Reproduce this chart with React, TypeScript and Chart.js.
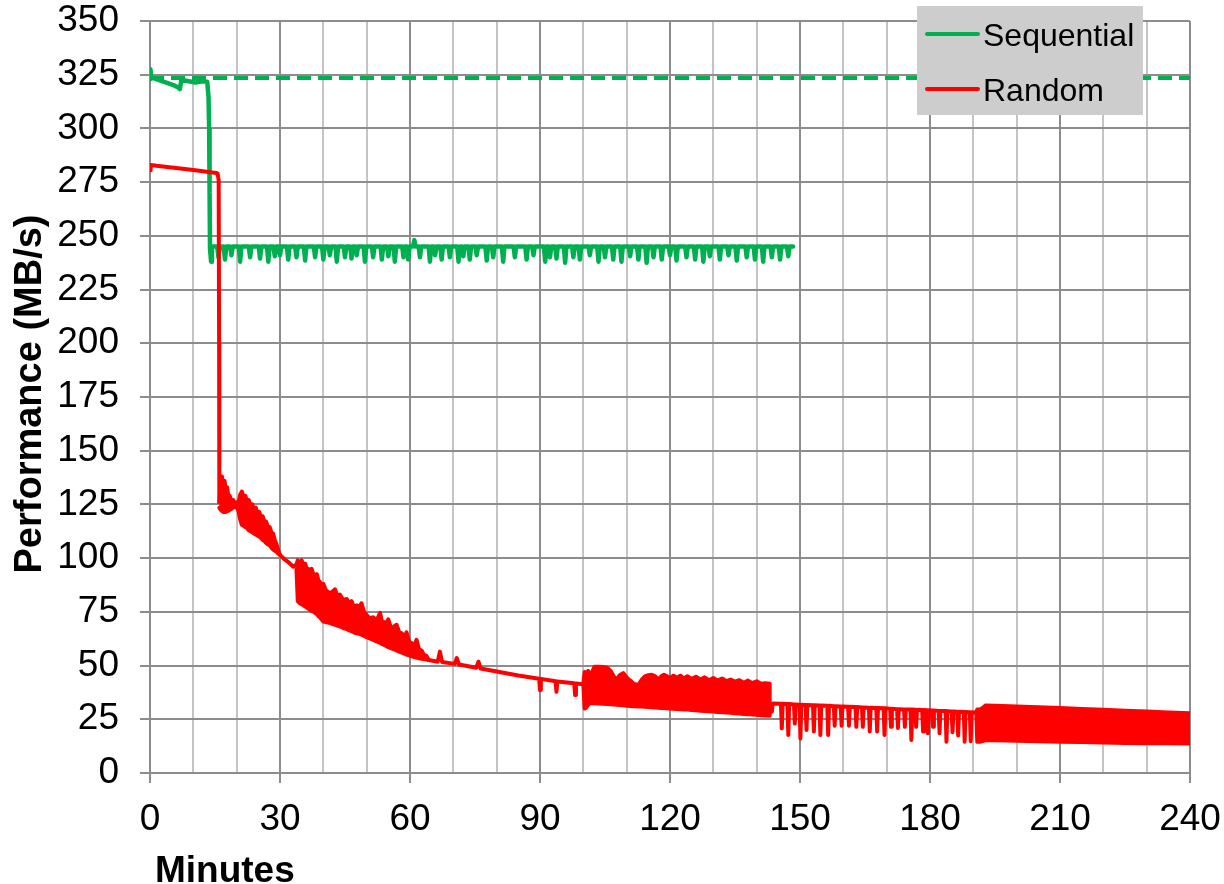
import { useEffect, useRef } from 'react';
import { Chart, registerables } from 'chart.js';

Chart.register(...registerables);

const FONT = "'Liberation Sans', Arial, Helvetica, sans-serif";
const GREEN = '#00B050';
const RED = '#FF0000';
const GRID_DARK = '#8c8c8c';
const GRID_LIGHT = '#c4c4c4';

// Axis set-up
const X_MAX = 240;
const X_GRID_STEP = 10;
const X_LABEL_STEP = 30;
const Y_MAX = 350;
const Y_STEP = 25;
const X_TITLE = 'Minutes';
const Y_TITLE = 'Performance (MB/s)';
const SERIES_NAMES = ['Sequential', 'Random'];

type Pt = [number, number];
type BandPt = [number, number, number]; // minute, upper, lower

// Sequential write: fresh-drive plateau and the fall to the sustained rate
const sequentialStart: Pt[] = [
  [0, 323], [0.1, 327.5], [0.3, 323.5], [1, 323.3], [3.1, 321.8], [5.4, 320.2],
  [6.7, 318.8], [6.9, 318.3], [7.2, 322.2], [8, 322.3], [10.5, 321.4], [12, 321.9],
  [13.2, 321.7], [13.5, 315], [13.65, 300], [13.75, 270], [13.85, 244], [14.1, 238],
  [14.3, 245],
];

// Sustained sequential level and the short excursions away from it
const SEQ_LEVEL = 245;
const SEQ_END = 148.4;
const sequentialExcursions: Pt[] = [
  [15.8, 240], [17.3, 239], [18.8, 241], [20.8, 238], [23.1, 240], [25.4, 239.5],
  [27.3, 238], [28.8, 240.5], [30, 241], [31.9, 239], [33.8, 240], [35.8, 238.5],
  [38.1, 240], [40, 239], [41.5, 241], [43.1, 238], [45, 240], [46.5, 239.5],
  [47.7, 241], [49.6, 238], [51.5, 240], [53.5, 239], [55, 240.5], [56.5, 238],
  [58.5, 240], [59.6, 239], [61.0, 248], [62.3, 240], [64.6, 238], [65.8, 241],
  [67.3, 239], [69.2, 240], [71.2, 238], [72.3, 240.5], [73.8, 239], [75.4, 241],
  [77.7, 238.5], [79.2, 240], [81.5, 238], [84.2, 240], [86.9, 239], [88.5, 241],
  [91.2, 238], [92.3, 240], [93.8, 239.5], [95.8, 237.5], [97.7, 240], [99.2, 239],
  [101.5, 241], [103.5, 238], [105, 240], [106.9, 239], [108.8, 238], [110.8, 240.5],
  [112.7, 239], [114.6, 237.5], [116.2, 240], [118.1, 239], [120, 241], [121.5, 238.5],
  [123.8, 240], [125.8, 239], [127.7, 238], [129.2, 240.5], [131.5, 239], [133.5, 241],
  [135.4, 238.5], [137.7, 240], [139.6, 239], [141.5, 238], [143.5, 240], [145.4, 239],
  [147.3, 240.5],
];

// Rated sequential speed (dashed reference)
const sequentialRated: Pt[] = [[0, 323.5], [240, 323.5]];

// Random write: single-trace stretches
const randomHead: Pt[] = [
  [0, 280.5], [0.15, 283], [1.5, 282.6], [5, 281.8], [10, 280.6], [15.3, 279.3],
  [15.6, 279], [15.85, 276], [15.95, 200], [16.0, 126],
];
const randomMid1: Pt[] = [[30, 101.5], [31, 99.5], [32, 98], [33.1, 96], [33.8, 97]];
const randomMid2: Pt[] = [
  [64.3, 52.6], [66.4, 51.8], [66.9, 56.5], [67.4, 51.7], [70.3, 50.8], [70.8, 53.5],
  [71.3, 50.5], [75.3, 49.0], [75.8, 51.8], [76.3, 48.6], [80, 47.2], [85, 45.4],
  [89.8, 43.9], [90.0, 38.6], [90.2, 43.8], [93.6, 42.7], [93.8, 37.8], [94.0, 42.6],
  [97.9, 41.8], [98.1, 36.3], [98.3, 41.7], [100, 41.3],
];
const randomMid3: Pt[] = [
  [143.0, 28.5], [143.5, 28.5], [143.7, 32.4],
  [145.6, 32.2], [145.8, 20.8], [146.0, 32.2],
  [147.1, 32.1], [147.3, 17.7], [147.5, 32.1],
  [148.6, 31.9], [148.8, 23.0], [149.0, 31.9],
  [149.9, 31.8], [150.1, 16.1], [150.3, 31.8],
  [151.3, 31.7], [151.5, 20.0], [151.7, 31.7],
  [153.0, 31.5], [153.2, 19.3], [153.4, 31.5],
  [154.5, 31.4], [154.7, 17.7], [154.9, 31.4],
  [156.3, 31.3], [156.5, 17.7], [156.7, 31.3],
  [157.8, 31.1], [158.0, 22.0], [158.2, 31.1],
  [159.4, 31.0], [159.6, 22.0], [159.8, 31.0],
  [161.1, 30.8], [161.3, 22.0], [161.5, 30.8],
  [162.8, 30.7], [163.0, 21.5], [163.2, 30.7],
  [164.3, 30.5], [164.5, 21.5], [164.7, 30.5],
  [165.9, 30.4], [166.1, 19.3], [166.3, 30.4],
  [167.6, 30.2], [167.8, 19.3], [168.0, 30.2],
  [169.3, 30.1], [169.5, 17.7], [169.7, 30.1],
  [170.8, 29.9], [171.0, 21.5], [171.2, 29.9],
  [172.4, 29.7], [172.6, 21.0], [172.8, 29.7],
  [174.0, 29.6], [174.2, 21.5], [174.4, 29.6],
  [175.5, 29.5], [175.7, 15.4], [175.9, 29.5],
  [176.6, 29.4], [176.8, 21.5], [177.0, 29.4],
  [178.2, 29.3], [178.4, 19.3], [178.6, 29.3],
  [179.3, 29.2], [179.5, 18.5], [179.7, 29.2],
  [180.5, 29.1], [180.7, 21.5], [180.9, 29.1],
  [182.0, 28.9], [182.2, 18.5], [182.4, 28.9],
  [183.6, 28.8], [183.8, 14.6], [184.0, 28.8],
  [185.0, 28.6], [185.2, 19.0], [185.4, 28.6],
  [186.3, 28.5], [186.5, 17.5], [186.7, 28.5],
  [187.8, 28.4], [188.0, 14.6], [188.2, 28.4],
  [189.2, 28.3], [189.4, 14.8], [189.6, 28.3],
  [190.7, 28.2],
];

// Random write: stretches where the trace oscillates into a solid band
const randomBandA: BandPt[] = [
  [16.0, 126, 123.5], [16.3, 135, 122.5], [16.6, 138, 122], [16.9, 134, 121.5],
  [17.2, 136, 121.5], [17.5, 131.5, 121.5], [17.8, 133, 122], [18.1, 128.5, 122],
  [18.4, 129, 122.5], [18.8, 126.5, 123], [19.2, 127, 123.5], [19.6, 125.5, 124],
  [20.0, 126, 123.5], [20.4, 125.5, 122], [20.8, 129.5, 118], [21.2, 131, 115.5],
  [21.6, 128.5, 115], [22.0, 129, 114.5], [22.4, 126.5, 114], [22.8, 127, 113],
  [23.2, 124.5, 112.5], [23.6, 125, 112], [24.0, 123, 111.5], [24.4, 123.5, 111],
  [24.8, 121, 110.5], [25.2, 121.5, 110], [25.6, 119, 109.5], [26.0, 119.5, 108.5],
  [26.4, 117, 108], [26.8, 117, 107], [27.2, 114.5, 106.5], [27.6, 114.5, 106],
  [28.0, 112, 105], [28.4, 111.5, 104], [28.8, 108.5, 103.5], [29.2, 106.5, 103],
  [29.6, 103.5, 102], [30.0, 101.5, 101.5],
];
const randomBandB: BandPt[] = [
  [33.8, 97, 95], [34.1, 99, 80], [34.6, 97.5, 79], [35.0, 99, 78.5], [35.4, 96.5, 78],
  [35.8, 97.5, 77.5], [36.2, 94.5, 77], [36.5, 95, 76.5], [36.9, 93, 76], [37.3, 95, 75.5],
  [37.8, 92, 75], [38.5, 92.5, 74], [38.9, 89.5, 73], [39.2, 89, 72.5], [39.6, 87, 71.5],
  [40.0, 88, 70.5], [40.6, 85, 70.2], [41.2, 84, 70], [41.9, 84, 69.5], [42.7, 85.5, 69],
  [43.2, 82.5, 68.6], [43.8, 83, 68.2], [44.6, 80.5, 67.5], [45.4, 81, 67], [46.0, 79, 66.4],
  [46.5, 80, 66], [47.1, 77, 65.4], [47.7, 78, 65], [48.3, 77, 64.8], [48.8, 79, 64.4],
  [49.4, 75, 63.8], [50.0, 73.5, 63.2], [50.7, 72, 62.6], [51.5, 72.5, 62], [52.3, 71, 61.2],
  [53.1, 74.5, 60.5], [53.5, 70.5, 60.1], [53.8, 70.5, 59.8], [54.4, 69.5, 59.2], [55.0, 71.5, 58.6],
  [55.6, 67.5, 58.1], [56.2, 68, 57.6], [56.9, 69, 57], [57.5, 65.5, 56.5], [58.1, 65, 56],
  [58.7, 63, 55.6], [59.2, 65.5, 55.1], [59.8, 61, 54.7], [60.4, 60.5, 54.3], [61.0, 59, 54],
  [61.5, 62, 53.7], [62.1, 57.5, 53.4], [62.7, 57, 53.2], [63.2, 55, 53], [63.8, 54.5, 52.8],
  [64.3, 52.6, 52.6],
];
const randomBandC: BandPt[] = [
  [100.0, 41.3, 41.3], [100.3, 47, 30], [100.7, 45, 30.5], [101.1, 47.5, 31.8],
  [101.5, 44.5, 32.4], [102.0, 47, 32.6], [102.6, 49.5, 32.5], [103.5, 49.5, 32.4],
  [104.5, 49.3, 32.2], [105.5, 49, 32.1], [106.3, 47.5, 32], [107.0, 45, 31.9],
  [107.7, 43.5, 31.8], [108.4, 45.5, 31.6], [109.2, 46.5, 31.5], [110.0, 44.5, 31.3],
  [110.8, 43, 31.2], [111.7, 41.5, 31.1], [112.7, 41, 31], [113.5, 43.5, 30.9],
  [114.2, 45, 30.8], [115.0, 45.5, 30.7], [115.8, 45.7, 30.6], [116.6, 45, 30.5],
  [117.3, 43.5, 30.4], [118.0, 45, 30.3], [118.6, 45.7, 30.2], [119.3, 45, 30.1],
  [120.0, 44.2, 30], [120.8, 45.3, 29.9], [121.6, 44.3, 29.8], [122.4, 45.3, 29.7],
  [123.2, 44, 29.6], [124.0, 45, 29.5], [125.0, 43.8, 29.3], [126.0, 44.8, 29.2],
  [127.0, 43.5, 29], [128.0, 44.5, 28.9], [129.0, 43.2, 28.7], [130.0, 44.2, 28.6],
  [131.0, 43, 28.4], [132.0, 44, 28.3], [133.0, 42.8, 28.1], [134.0, 43.5, 28],
  [135.0, 42.5, 27.8], [136.0, 43.2, 27.7], [137.0, 42, 27.5], [138.0, 43, 27.4],
  [139.0, 41.8, 27.2], [140.0, 42.7, 27.1], [141.0, 41.5, 26.9], [142.0, 41.8, 26.8],
  [142.9, 41.5, 26.7], [143.0, 28.5, 28.5],
];
const randomBandD: BandPt[] = [
  [190.7, 28.2, 28.2], [190.9, 29.5, 14.5], [191.5, 29.5, 14.5], [192.3, 30.5, 15],
  [192.8, 31.4, 15.3], [195, 31.3, 15.3], [200, 31, 15], [205, 30.6, 14.8],
  [210, 30.2, 14.6], [215, 29.8, 14.4], [220, 29.4, 14.2], [225, 29, 14],
  [230, 28.6, 13.9], [235, 28.2, 13.8], [240, 27.8, 13.7],
];

const toXY = (pts: Pt[]) => pts.map(([x, y]) => ({ x, y }));
const breakAt = (x: number) => ({ x, y: null as unknown as number });

const randomTrace = [
  ...toXY(randomHead), breakAt(16.0),
  ...toXY(randomMid1), breakAt(33.8),
  ...toXY(randomMid2), breakAt(100),
  ...toXY(randomMid3),
];

// Each excursion leaves the level and returns to it within a few seconds
const EXCURSION_HALF = 0.3;
const sequentialTrace = [
  ...toXY(sequentialStart),
  ...sequentialExcursions.flatMap(([m, v]) => [
    { x: m - EXCURSION_HALF, y: SEQ_LEVEL },
    { x: m, y: v },
    { x: m + EXCURSION_HALF, y: SEQ_LEVEL },
  ]),
  { x: SEQ_END, y: SEQ_LEVEL },
];

const LINE_W = 4;

const baseLine = {
  pointRadius: 0,
  pointHoverRadius: 0,
  tension: 0,
  borderJoinStyle: 'round' as const,
  borderCapStyle: 'round' as const,
  spanGaps: false,
};

function bandDatasets(band: BandPt[]) {
  return [
    {
      ...baseLine,
      label: '',
      data: band.map(([x, top]) => ({ x, y: top })),
      borderColor: RED,
      borderWidth: LINE_W,
      fill: false,
    },
    {
      ...baseLine,
      label: '',
      data: band.map(([x, , bottom]) => ({ x, y: bottom })),
      borderColor: RED,
      backgroundColor: RED,
      borderWidth: LINE_W,
      fill: '-1',
    },
  ];
}

// Axis titles and the boxed legend
const decorPlugin = {
  id: 'decor',
  afterDraw(chart: Chart) {
    const ctx = chart.ctx;
    ctx.save();
    ctx.fillStyle = '#000';
    ctx.textAlign = 'left';
    ctx.textBaseline = 'alphabetic';
    ctx.font = `bold 37px ${FONT}`;
    ctx.fillText(X_TITLE, 155, 882);
    ctx.save();
    ctx.font = `bold 38px ${FONT}`;
    ctx.translate(41, 394);
    ctx.rotate(-Math.PI / 2);
    ctx.textAlign = 'center';
    ctx.fillText(Y_TITLE, 0, 0);
    ctx.restore();

    // legend box
    ctx.fillStyle = '#cdcdcd';
    ctx.fillRect(917, 6, 226, 109);
    const rows = [
      { name: SERIES_NAMES[0], color: GREEN, y: 34 },
      { name: SERIES_NAMES[1], color: RED, y: 89 },
    ];
    ctx.font = `32px ${FONT}`;
    ctx.textAlign = 'left';
    ctx.textBaseline = 'alphabetic';
    for (const r of rows) {
      ctx.strokeStyle = r.color;
      ctx.lineWidth = 4;
      ctx.lineCap = 'round';
      ctx.beginPath();
      ctx.moveTo(927, r.y);
      ctx.lineTo(978, r.y);
      ctx.stroke();
      ctx.fillStyle = '#000';
      ctx.fillText(r.name, 983, r.y + 11.5);
    }
    ctx.restore();
  },
};

export default function App() {
  const canvasRef = useRef<HTMLCanvasElement>(null);

  useEffect(() => {
    const canvas = canvasRef.current;
    if (!canvas) return;
    const chart = new Chart(canvas, {
      type: 'line',
      data: {
        datasets: [
          {
            ...baseLine,
            label: SERIES_NAMES[1],
            data: randomTrace,
            borderColor: RED,
            borderWidth: LINE_W,
            fill: false,
          },
          ...bandDatasets(randomBandA),
          ...bandDatasets(randomBandB),
          ...bandDatasets(randomBandC),
          ...bandDatasets(randomBandD),
          {
            ...baseLine,
            label: SERIES_NAMES[0],
            data: sequentialTrace,
            borderColor: GREEN,
            borderWidth: 4.5,
            fill: false,
          },
          {
            ...baseLine,
            label: '',
            data: toXY(sequentialRated),
            borderColor: GREEN,
            borderWidth: 4,
            borderDash: [14, 7],
            borderCapStyle: 'butt',
            fill: false,
          },
        ] as any,
      },
      options: {
        responsive: false,
        devicePixelRatio: 1,
        animation: false,
        layout: { padding: { top: 21, right: 34, left: 0, bottom: 0 } },
        plugins: {
          legend: { display: false },
          tooltip: { enabled: false },
          title: { display: false },
        },
        scales: {
          x: {
            type: 'linear',
            min: 0,
            max: X_MAX,
            afterFit: (s: any) => {
              s.height = 111;
              s.paddingLeft = 0;
              s.paddingRight = 0;
            },
            ticks: {
              stepSize: X_GRID_STEP,
              autoSkip: false,
              maxRotation: 0,
              padding: 15,
              color: '#000',
              font: { family: FONT, size: 37 },
              callback: (v: any) => (Number(v) % X_LABEL_STEP === 0 ? String(v) : ''),
            },
            grid: {
              lineWidth: 2,
              tickLength: 10,
              tickWidth: 2,
              color: (c: any) => (c.tick && c.tick.value % X_LABEL_STEP === 0 ? GRID_DARK : GRID_LIGHT),
              tickColor: (c: any) => (c.tick && c.tick.value % X_LABEL_STEP === 0 ? GRID_DARK : 'rgba(0,0,0,0)'),
            },
            border: { color: GRID_DARK, width: 2 },
          },
          y: {
            type: 'linear',
            min: 0,
            max: Y_MAX,
            afterFit: (s: any) => {
              s.width = 150;
              s.paddingTop = 0;
              s.paddingBottom = 0;
            },
            ticks: {
              stepSize: Y_STEP,
              padding: 21,
              color: '#000',
              font: { family: FONT, size: 37, lineHeight: 1 },
            },
            grid: {
              lineWidth: 2,
              tickLength: 10,
              color: GRID_DARK,
              tickColor: GRID_DARK,
            },
            border: { color: GRID_DARK, width: 2 },
          },
        },
      } as any,
      plugins: [decorPlugin],
    });
    return () => chart.destroy();
  }, []);

  return (
    <div style={{ position: 'absolute', left: 0, top: 0, width: 1224, height: 884, background: '#fff' }}>
      <canvas ref={canvasRef} width={1224} height={884} style={{ display: 'block' }} />
    </div>
  );
}
